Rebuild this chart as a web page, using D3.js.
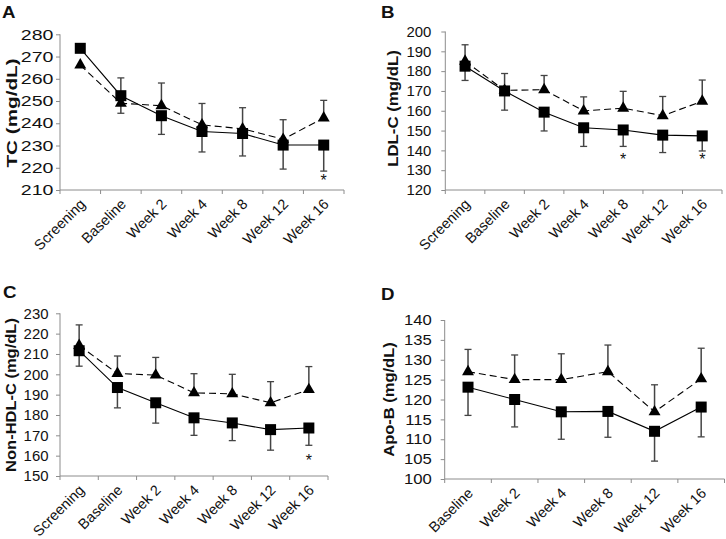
<!DOCTYPE html>
<html><head><meta charset="utf-8">
<script src="https://cdn.jsdelivr.net/npm/d3@7"></script>
<style>body{margin:0;background:#fff}svg{display:block}text{font-family:"Liberation Sans",Arial,sans-serif;fill:#111}</style>
</head><body><svg id="c" width="726" height="539"></svg>
<script>
// ---------- data ----------
const catsFull = ["Screening","Baseline","Week 2","Week 4","Week 8","Week 12","Week 16"];
const catsApo = ["Baseline","Week 2","Week 4","Week 8","Week 12","Week 16"];

const tcTicks = [210,220,230,240,250,260,270,280];
const tcSq = [273.7,252.4,243.4,236.3,235.4,230.2,230.2];
const tcSqLow = [null,244.5,235,227.1,225.3,219.4,218.5];
const tcTri = [266.2,249,247.9,239.3,237.5,232.8,242.4];
const tcTriHigh = [null,260.4,258.1,248.9,247,241.6,250.3];
const tcSig = [["Week 16",215.5]];

const ldlTicks = [120,130,140,150,160,170,180,190,200];
const ldlSq = [182.5,170,159.3,151.4,150.3,147.7,147.3];
const ldlSqLow = [175.3,160.3,149.8,142,142,138.9,139.7];
const ldlTri = [185,170.3,170.6,159.9,161.3,157.5,164.8];
const ldlTriHigh = [193.3,178.8,177.8,167,169.8,167.2,175.5];
const ldlSig = [["Week 8",136.5],["Week 16",136.5]];

const nhTicks = [150,160,170,180,190,200,210,220,230];
const nhSq = [211.6,193.5,186,178.6,176.1,172.8,173.6];
const nhSqLow = [204,183.5,176,170,167.4,162.7,165.1];
const nhTri = [214.2,200.4,199.6,190.9,190.4,186,192.5];
const nhTriHigh = [224.3,209,208.3,200.3,200,196.4,203.8];
const nhSig = [["Week 16",158.9]];

const apoTicks = [100,105,110,115,120,125,130,135,140];
const apoSq = [123.1,120,116.9,117,112,118.1];
const apoSqLow = [116,113.1,110,110.5,104.5,110.6];
const apoTri = [127,125,125,127,116.9,125.2];
const apoTriHigh = [132.6,131.2,131.5,133.7,123.7,132.9];
const apoSig = [];

// ---------- layout ----------
const panels = [
  {letter:"A", lx:2, ly:18, title:"TC (mg/dL)", tx:17, tcy:113, tsx:1.38, x0:60, x1:344, yT:34.3, yB:190, gap:6.5, sx:1.35,
   cats:catsFull, ticks:tcTicks, sq:tcSq, sqLo:tcSqLow, tri:tcTri, triHi:tcTriHigh, sig:tcSig},
  {letter:"B", lx:381, ly:18, title:"LDL-C (mg/dL)", tx:398, tcy:108.5, tsx:1.12, x0:445.3, x1:722, yT:31.5, yB:190, gap:14, sx:1.03,
   cats:catsFull, ticks:ldlTicks, sq:ldlSq, sqLo:ldlSqLow, tri:ldlTri, triHi:ldlTriHigh, sig:ldlSig},
  {letter:"C", lx:3, ly:298, title:"Non-HDL-C (mg/dL)", tx:16, tcy:395, tsx:1.1, x0:60, x1:328, yT:313.3, yB:476, gap:11.5, sx:1.03,
   cats:catsFull, ticks:nhTicks, sq:nhSq, sqLo:nhSqLow, tri:nhTri, triHi:nhTriHigh, sig:nhSig},
  {letter:"D", lx:381, ly:300, title:"Apo-B (mg/dL)", tx:394, tcy:399.5, tsx:1.1, x0:444.7, x1:724.5, yT:320, yB:479, gap:13, sx:1.15,
   cats:catsApo, ticks:apoTicks, sq:apoSq, sqLo:apoSqLow, tri:apoTri, triHi:apoTriHigh, sig:apoSig}
];

const svg = d3.select("#c");
const axisCol = "#8c8c8c", barCol = "#444";

function txt(g, x, y, s, o){
  return g.append("text")
    .attr("transform", `translate(${x},${y}) rotate(${o.rot||0}) scale(${o.sx||1},1)`)
    .attr("text-anchor", o.anchor||"start")
    .attr("dy", o.dy||0)
    .style("font-size", (o.size||14)+"px")
    .style("font-weight", o.weight||"normal")
    .text(s);
}

panels.forEach(p => {
  const g = svg.append("g");
  const x = d3.scaleBand().domain(p.cats).range([p.x0, p.x1]);
  const y = d3.scaleLinear().domain([d3.min(p.ticks), d3.max(p.ticks)]).range([p.yB, p.yT]);
  const cx = c => x(c) + x.bandwidth()/2;

  // panel letter
  txt(g, p.lx, p.ly, p.letter, {size:17, weight:"bold", sx:1.1});

  // y axis
  const ya = g.append("g").attr("transform", `translate(${p.x0},0)`)
    .call(d3.axisLeft(y).tickValues(p.ticks).tickSize(4).tickFormat(""));
  ya.selectAll("path,line").attr("stroke", axisCol);
  ya.select(".domain").attr("d", `M0,${p.yB}V${p.yT}`);
  p.ticks.forEach(t => txt(g, p.x0 - p.gap, y(t), String(t), {anchor:"end", dy:"0.36em", size:14.5, sx:p.sx}));

  // x axis
  const xa = g.append("g").attr("transform", `translate(0,${p.yB})`)
    .call(d3.axisBottom(x).tickSize(0).tickFormat(""));
  xa.select(".domain").attr("stroke", axisCol).attr("d", `M${p.x0},0H${p.x1}`);
  const bounds = p.cats.map(c => x(c)).concat([p.x1]);
  g.selectAll(null).data(bounds).enter().append("line")
    .attr("x1", d=>d).attr("x2", d=>d).attr("y1", p.yB).attr("y2", p.yB+4)
    .attr("stroke", axisCol);
  p.cats.forEach(c => txt(g, cx(c)+6, p.yB+15, c, {anchor:"end", rot:-45, size:14.5, sx:1}));

  // y title
  txt(g, p.tx, p.tcy, p.title, {anchor:"middle", rot:-90, size:15, weight:"bold", sx:p.tsx});

  // lines
  const pts = (arr) => p.cats.map((c,i)=>[cx(c), y(arr[i])]);
  const line = d3.line();
  g.append("path").attr("d", line(pts(p.sq))).attr("fill","none").attr("stroke","#000").attr("stroke-width",1.1);
  g.append("path").attr("d", line(pts(p.tri))).attr("fill","none").attr("stroke","#000").attr("stroke-width",1.1).attr("stroke-dasharray","7,4");

  // error bars
  const eb = (vals, ends) => p.cats.forEach((c,i) => {
    if (ends[i] == null) return;
    const X = cx(c);
    g.append("line").attr("x1",X).attr("x2",X).attr("y1",y(vals[i])).attr("y2",y(ends[i])).attr("stroke",barCol).attr("stroke-width",1.5);
    g.append("line").attr("x1",X-3.5).attr("x2",X+3.5).attr("y1",y(ends[i])).attr("y2",y(ends[i])).attr("stroke",barCol).attr("stroke-width",1.3);
  });
  eb(p.sq, p.sqLo);
  eb(p.tri, p.triHi);

  // markers
  const sz = 11;
  g.selectAll(null).data(p.cats).enter().append("rect")
    .attr("x", c=>cx(c)-sz/2).attr("y",(c,i)=>y(p.sq[i])-sz/2).attr("width",sz).attr("height",sz).attr("fill","#000");
  const tri = d3.symbol().type(d3.symbolTriangle).size(62);
  g.selectAll(null).data(p.cats).enter().append("path")
    .attr("d", tri).attr("transform",(c,i)=>`translate(${cx(c)},${y(p.tri[i])})`).attr("fill","#000");

  // significance
  p.sig.forEach(([c,v]) => txt(g, cx(c), y(v)+8, "*", {anchor:"middle", size:16}));
});
</script></body></html>
